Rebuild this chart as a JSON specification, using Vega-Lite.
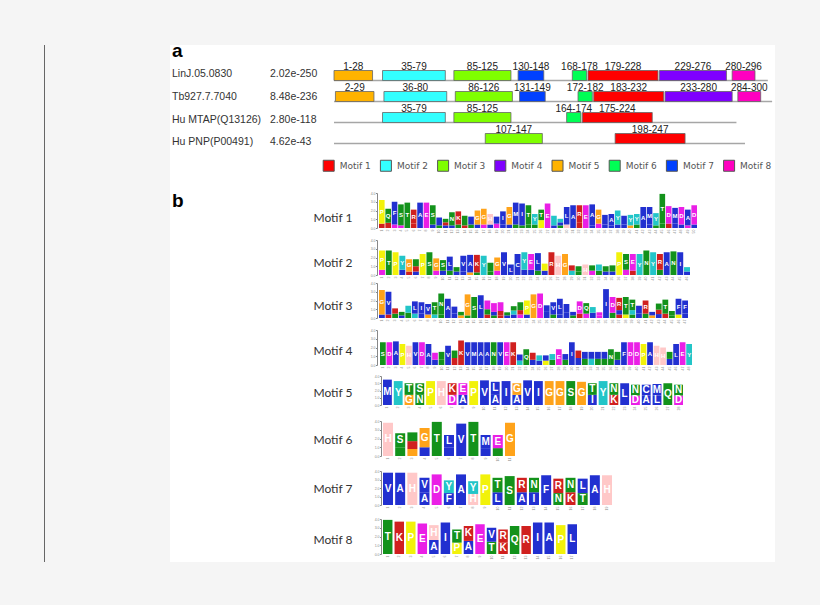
{
  "$schema": "https://vega.github.io/schema/vega-lite/v6.json",
  "width": 605,
  "height": 517,
  "autosize": {"type": "none"},
  "padding": {"left": 170, "top": 45, "right": 45, "bottom": 43},
  "background": "#f5f5f5",
  "config": {"view": {"fill": "white", "stroke": null}, "font": "Liberation Sans"},
  "datasets": {
    "proteins": [
      {"protein": "LinJ.05.0830", "evalue": "2.02e-250", "first": 1, "length": 305},
      {"protein": "Tb927.7.7040", "evalue": "8.48e-236", "first": 1, "length": 308},
      {"protein": "Hu MTAP(Q13126)", "evalue": "2.80e-118", "first": 1, "length": 283},
      {"protein": "Hu PNP(P00491)", "evalue": "4.62e-43", "first": 1, "length": 289}
    ],
    "sites": [
      {"protein": "LinJ.05.0830", "motif": "Motif 5", "start": 1, "end": 28, "label": "1-28"},
      {"protein": "LinJ.05.0830", "motif": "Motif 2", "start": 35, "end": 79, "label": "35-79"},
      {"protein": "LinJ.05.0830", "motif": "Motif 3", "start": 85, "end": 125, "label": "85-125"},
      {"protein": "LinJ.05.0830", "motif": "Motif 7", "start": 130, "end": 148, "label": "130-148"},
      {"protein": "LinJ.05.0830", "motif": "Motif 6", "start": 168, "end": 178, "label": "168-178"},
      {"protein": "LinJ.05.0830", "motif": "Motif 1", "start": 179, "end": 228, "label": "179-228"},
      {"protein": "LinJ.05.0830", "motif": "Motif 4", "start": 229, "end": 276, "label": "229-276"},
      {"protein": "LinJ.05.0830", "motif": "Motif 8", "start": 280, "end": 296, "label": "280-296"},
      {"protein": "Tb927.7.7040", "motif": "Motif 5", "start": 2, "end": 29, "label": "2-29"},
      {"protein": "Tb927.7.7040", "motif": "Motif 2", "start": 36, "end": 80, "label": "36-80"},
      {"protein": "Tb927.7.7040", "motif": "Motif 3", "start": 86, "end": 126, "label": "86-126"},
      {"protein": "Tb927.7.7040", "motif": "Motif 7", "start": 131, "end": 149, "label": "131-149"},
      {"protein": "Tb927.7.7040", "motif": "Motif 6", "start": 172, "end": 182, "label": "172-182"},
      {"protein": "Tb927.7.7040", "motif": "Motif 1", "start": 183, "end": 232, "label": "183-232"},
      {"protein": "Tb927.7.7040", "motif": "Motif 4", "start": 233, "end": 280, "label": "233-280"},
      {"protein": "Tb927.7.7040", "motif": "Motif 8", "start": 284, "end": 300, "label": "284-300"},
      {"protein": "Hu MTAP(Q13126)", "motif": "Motif 2", "start": 35, "end": 79, "label": "35-79"},
      {"protein": "Hu MTAP(Q13126)", "motif": "Motif 3", "start": 85, "end": 125, "label": "85-125"},
      {"protein": "Hu MTAP(Q13126)", "motif": "Motif 6", "start": 164, "end": 174, "label": "164-174"},
      {"protein": "Hu MTAP(Q13126)", "motif": "Motif 1", "start": 175, "end": 224, "label": "175-224"},
      {"protein": "Hu PNP(P00491)", "motif": "Motif 3", "start": 107, "end": 147, "label": "107-147"},
      {"protein": "Hu PNP(P00491)", "motif": "Motif 1", "start": 198, "end": 247, "label": "198-247"}
    ],
    "logo1": [
      {"pos": 1, "aa": "R", "bits": 0.5}, {"pos": 1, "aa": "P", "bits": 2.7},
      {"pos": 2, "aa": "R", "bits": 0.6}, {"pos": 2, "aa": "Q", "bits": 1.6},
      {"pos": 3, "aa": "E", "bits": 0.4}, {"pos": 3, "aa": "F", "bits": 2.6},
      {"pos": 4, "aa": "E", "bits": 0.3}, {"pos": 4, "aa": "S", "bits": 2.4},
      {"pos": 5, "aa": "T", "bits": 2.9},
      {"pos": 6, "aa": "K", "bits": 0.5}, {"pos": 6, "aa": "R", "bits": 1.6},
      {"pos": 7, "aa": "A", "bits": 2.9},
      {"pos": 8, "aa": "E", "bits": 2.9},
      {"pos": 9, "aa": "C", "bits": 0.4}, {"pos": 9, "aa": "S", "bits": 2.2},
      {"pos": 10, "aa": "T", "bits": 0.3}, {"pos": 10, "aa": "L", "bits": 0.9},
      {"pos": 11, "aa": "V", "bits": 0.3}, {"pos": 11, "aa": "K", "bits": 0.35}, {"pos": 11, "aa": "T", "bits": 0.4},
      {"pos": 12, "aa": "F", "bits": 0.3}, {"pos": 12, "aa": "N", "bits": 1.5},
      {"pos": 13, "aa": "Q", "bits": 0.4}, {"pos": 13, "aa": "K", "bits": 1.5},
      {"pos": 14, "aa": "R", "bits": 0.3}, {"pos": 14, "aa": "T", "bits": 1.1},
      {"pos": 15, "aa": "N", "bits": 0.4}, {"pos": 15, "aa": "L", "bits": 0.9},
      {"pos": 16, "aa": "A", "bits": 0.4}, {"pos": 16, "aa": "G", "bits": 1.6},
      {"pos": 17, "aa": "D", "bits": 0.4}, {"pos": 17, "aa": "G", "bits": 1.8},
      {"pos": 18, "aa": "A", "bits": 0.4}, {"pos": 18, "aa": "H", "bits": 1.2},
      {"pos": 19, "aa": "D", "bits": 0.5}, {"pos": 19, "aa": "L", "bits": 0.8},
      {"pos": 20, "aa": "A", "bits": 0.4}, {"pos": 20, "aa": "I", "bits": 1.5},
      {"pos": 21, "aa": "V", "bits": 0.4}, {"pos": 21, "aa": "G", "bits": 2.0},
      {"pos": 22, "aa": "N", "bits": 0.4}, {"pos": 22, "aa": "M", "bits": 2.5},
      {"pos": 23, "aa": "S", "bits": 0.3}, {"pos": 23, "aa": "I", "bits": 2.5},
      {"pos": 24, "aa": "S", "bits": 0.4}, {"pos": 24, "aa": "T", "bits": 2.2},
      {"pos": 25, "aa": "S", "bits": 0.4}, {"pos": 25, "aa": "Y", "bits": 1.2},
      {"pos": 26, "aa": "P", "bits": 0.9}, {"pos": 26, "aa": "T", "bits": 1.2},
      {"pos": 27, "aa": "E", "bits": 2.8},
      {"pos": 28, "aa": "A", "bits": 0.3}, {"pos": 28, "aa": "Y", "bits": 1.1},
      {"pos": 29, "aa": "T", "bits": 0.3}, {"pos": 29, "aa": "V", "bits": 0.35}, {"pos": 29, "aa": "Y", "bits": 0.4},
      {"pos": 30, "aa": "H", "bits": 0.4}, {"pos": 30, "aa": "L", "bits": 2.0},
      {"pos": 31, "aa": "A", "bits": 2.6},
      {"pos": 32, "aa": "K", "bits": 0.6}, {"pos": 32, "aa": "R", "bits": 2.0},
      {"pos": 33, "aa": "E", "bits": 2.6},
      {"pos": 34, "aa": "C", "bits": 0.3}, {"pos": 34, "aa": "A", "bits": 2.4},
      {"pos": 35, "aa": "E", "bits": 0.5}, {"pos": 35, "aa": "G", "bits": 1.6},
      {"pos": 36, "aa": "L", "bits": 0.4}, {"pos": 36, "aa": "I", "bits": 1.1},
      {"pos": 37, "aa": "C", "bits": 0.3}, {"pos": 37, "aa": "A", "bits": 1.3},
      {"pos": 38, "aa": "V", "bits": 0.4}, {"pos": 38, "aa": "Y", "bits": 1.6},
      {"pos": 39, "aa": "F", "bits": 0.4}, {"pos": 39, "aa": "A", "bits": 1.0},
      {"pos": 40, "aa": "G", "bits": 0.3}, {"pos": 40, "aa": "Y", "bits": 1.2},
      {"pos": 41, "aa": "S", "bits": 0.4}, {"pos": 41, "aa": "Y", "bits": 1.2},
      {"pos": 42, "aa": "A", "bits": 2.4},
      {"pos": 43, "aa": "A", "bits": 0.4}, {"pos": 43, "aa": "M", "bits": 2.0},
      {"pos": 44, "aa": "S", "bits": 0.3}, {"pos": 44, "aa": "Y", "bits": 1.4},
      {"pos": 45, "aa": "N", "bits": 0.5}, {"pos": 45, "aa": "T", "bits": 3.4},
      {"pos": 46, "aa": "K", "bits": 0.5}, {"pos": 46, "aa": "D", "bits": 2.0},
      {"pos": 47, "aa": "V", "bits": 0.5}, {"pos": 47, "aa": "M", "bits": 1.8},
      {"pos": 48, "aa": "C", "bits": 0.4}, {"pos": 48, "aa": "D", "bits": 2.0},
      {"pos": 49, "aa": "D", "bits": 0.3}, {"pos": 49, "aa": "A", "bits": 1.8},
      {"pos": 50, "aa": "C", "bits": 0.4}, {"pos": 50, "aa": "D", "bits": 2.2}
    ],
    "logo2": [
      {"pos": 1, "aa": "D", "bits": 0.6}, {"pos": 1, "aa": "P", "bits": 2.2},
      {"pos": 2, "aa": "T", "bits": 2.8},
      {"pos": 3, "aa": "P", "bits": 2.6},
      {"pos": 4, "aa": "F", "bits": 0.6}, {"pos": 4, "aa": "Y", "bits": 1.6},
      {"pos": 5, "aa": "K", "bits": 0.4}, {"pos": 5, "aa": "G", "bits": 1.4},
      {"pos": 6, "aa": "M", "bits": 0.4}, {"pos": 6, "aa": "K", "bits": 0.6}, {"pos": 6, "aa": "N", "bits": 0.8},
      {"pos": 7, "aa": "P", "bits": 2.4},
      {"pos": 8, "aa": "S", "bits": 2.6},
      {"pos": 9, "aa": "D", "bits": 0.5}, {"pos": 9, "aa": "G", "bits": 1.4},
      {"pos": 10, "aa": "A", "bits": 0.5}, {"pos": 10, "aa": "S", "bits": 1.2},
      {"pos": 11, "aa": "T", "bits": 0.5}, {"pos": 11, "aa": "L", "bits": 1.6},
      {"pos": 12, "aa": "C", "bits": 0.4}, {"pos": 12, "aa": "S", "bits": 0.5},
      {"pos": 13, "aa": "L", "bits": 0.4}, {"pos": 13, "aa": "V", "bits": 1.8},
      {"pos": 14, "aa": "G", "bits": 0.3}, {"pos": 14, "aa": "A", "bits": 2.0},
      {"pos": 15, "aa": "T", "bits": 0.3}, {"pos": 15, "aa": "K", "bits": 2.0},
      {"pos": 16, "aa": "Y", "bits": 2.2},
      {"pos": 17, "aa": "N", "bits": 0.4}, {"pos": 17, "aa": "S", "bits": 1.0},
      {"pos": 18, "aa": "D", "bits": 0.5}, {"pos": 18, "aa": "G", "bits": 1.5},
      {"pos": 19, "aa": "V", "bits": 2.6},
      {"pos": 20, "aa": "L", "bits": 1.2},
      {"pos": 21, "aa": "C", "bits": 2.4},
      {"pos": 22, "aa": "A", "bits": 0.6}, {"pos": 22, "aa": "Y", "bits": 2.0},
      {"pos": 23, "aa": "L", "bits": 0.6}, {"pos": 23, "aa": "E", "bits": 1.8},
      {"pos": 24, "aa": "T", "bits": 0.5}, {"pos": 24, "aa": "L", "bits": 2.0},
      {"pos": 25, "aa": "A", "bits": 0.5}, {"pos": 25, "aa": "P", "bits": 0.8},
      {"pos": 26, "aa": "R", "bits": 2.6},
      {"pos": 27, "aa": "H", "bits": 2.2},
      {"pos": 28, "aa": "G", "bits": 2.4},
      {"pos": 29, "aa": "Y", "bits": 0.5}, {"pos": 29, "aa": "R", "bits": 0.6},
      {"pos": 30, "aa": "Q", "bits": 0.4}, {"pos": 30, "aa": "S", "bits": 0.6},
      {"pos": 31, "aa": "H", "bits": 1.2},
      {"pos": 32, "aa": "E", "bits": 0.5}, {"pos": 32, "aa": "T", "bits": 0.6},
      {"pos": 33, "aa": "Q", "bits": 0.5}, {"pos": 33, "aa": "Y", "bits": 0.7},
      {"pos": 34, "aa": "F", "bits": 0.4}, {"pos": 34, "aa": "T", "bits": 0.6},
      {"pos": 35, "aa": "M", "bits": 0.4}, {"pos": 35, "aa": "T", "bits": 0.7},
      {"pos": 36, "aa": "P", "bits": 2.6},
      {"pos": 37, "aa": "D", "bits": 0.6}, {"pos": 37, "aa": "S", "bits": 1.8},
      {"pos": 38, "aa": "K", "bits": 0.5}, {"pos": 38, "aa": "E", "bits": 1.9},
      {"pos": 39, "aa": "Y", "bits": 2.4},
      {"pos": 40, "aa": "N", "bits": 2.8},
      {"pos": 41, "aa": "Y", "bits": 2.6},
      {"pos": 42, "aa": "Q", "bits": 0.6}, {"pos": 42, "aa": "R", "bits": 1.8},
      {"pos": 43, "aa": "A", "bits": 2.6},
      {"pos": 44, "aa": "N", "bits": 2.7},
      {"pos": 45, "aa": "I", "bits": 2.6},
      {"pos": 46, "aa": "C", "bits": 0.4}, {"pos": 46, "aa": "Y", "bits": 0.5}
    ],
    "logo3": [
      {"pos": 1, "aa": "C", "bits": 0.4}, {"pos": 1, "aa": "G", "bits": 2.8},
      {"pos": 2, "aa": "R", "bits": 0.4}, {"pos": 2, "aa": "V", "bits": 2.6},
      {"pos": 3, "aa": "T", "bits": 0.5}, {"pos": 3, "aa": "R", "bits": 0.6},
      {"pos": 4, "aa": "A", "bits": 0.3}, {"pos": 4, "aa": "T", "bits": 0.4},
      {"pos": 5, "aa": "T", "bits": 0.6}, {"pos": 5, "aa": "Y", "bits": 0.8},
      {"pos": 6, "aa": "Y", "bits": 0.5}, {"pos": 6, "aa": "L", "bits": 1.4},
      {"pos": 7, "aa": "A", "bits": 0.5}, {"pos": 7, "aa": "I", "bits": 1.3},
      {"pos": 8, "aa": "G", "bits": 0.4}, {"pos": 8, "aa": "V", "bits": 1.2},
      {"pos": 9, "aa": "Y", "bits": 0.4}, {"pos": 9, "aa": "T", "bits": 1.4},
      {"pos": 10, "aa": "T", "bits": 0.4}, {"pos": 10, "aa": "N", "bits": 2.4},
      {"pos": 11, "aa": "A", "bits": 2.2},
      {"pos": 12, "aa": "A", "bits": 0.5}, {"pos": 12, "aa": "V", "bits": 0.8},
      {"pos": 13, "aa": "G", "bits": 0.3}, {"pos": 13, "aa": "S", "bits": 0.4},
      {"pos": 14, "aa": "S", "bits": 0.3}, {"pos": 14, "aa": "G", "bits": 2.4},
      {"pos": 15, "aa": "S", "bits": 2.4},
      {"pos": 16, "aa": "L", "bits": 2.6},
      {"pos": 17, "aa": "R", "bits": 0.4}, {"pos": 17, "aa": "N", "bits": 0.6}, {"pos": 17, "aa": "D", "bits": 1.0},
      {"pos": 18, "aa": "S", "bits": 0.3}, {"pos": 18, "aa": "A", "bits": 0.4}, {"pos": 18, "aa": "E", "bits": 1.0},
      {"pos": 19, "aa": "K", "bits": 0.3}, {"pos": 19, "aa": "R", "bits": 0.5}, {"pos": 19, "aa": "E", "bits": 1.0},
      {"pos": 20, "aa": "C", "bits": 0.3}, {"pos": 20, "aa": "S", "bits": 0.35},
      {"pos": 21, "aa": "C", "bits": 0.4}, {"pos": 21, "aa": "Y", "bits": 0.45}, {"pos": 21, "aa": "T", "bits": 0.5},
      {"pos": 22, "aa": "E", "bits": 0.4}, {"pos": 22, "aa": "K", "bits": 0.5}, {"pos": 22, "aa": "Q", "bits": 0.9},
      {"pos": 23, "aa": "V", "bits": 0.4}, {"pos": 23, "aa": "P", "bits": 1.6},
      {"pos": 24, "aa": "G", "bits": 2.7},
      {"pos": 25, "aa": "D", "bits": 2.8},
      {"pos": 26, "aa": "M", "bits": 0.7}, {"pos": 26, "aa": "A", "bits": 0.75},
      {"pos": 27, "aa": "T", "bits": 0.4}, {"pos": 27, "aa": "V", "bits": 1.4},
      {"pos": 28, "aa": "C", "bits": 0.4}, {"pos": 28, "aa": "L", "bits": 1.8},
      {"pos": 29, "aa": "V", "bits": 0.6}, {"pos": 29, "aa": "I", "bits": 1.0},
      {"pos": 30, "aa": "T", "bits": 0.3}, {"pos": 30, "aa": "M", "bits": 0.4},
      {"pos": 31, "aa": "R", "bits": 0.5}, {"pos": 31, "aa": "D", "bits": 1.4},
      {"pos": 32, "aa": "D", "bits": 0.5}, {"pos": 32, "aa": "Q", "bits": 1.2},
      {"pos": 33, "aa": "F", "bits": 0.6}, {"pos": 33, "aa": "Y", "bits": 0.65},
      {"pos": 34, "aa": "D", "bits": 0.3}, {"pos": 34, "aa": "E", "bits": 0.35},
      {"pos": 35, "aa": "I", "bits": 3.3},
      {"pos": 36, "aa": "N", "bits": 0.6}, {"pos": 36, "aa": "D", "bits": 1.8},
      {"pos": 37, "aa": "K", "bits": 0.4}, {"pos": 37, "aa": "L", "bits": 0.5}, {"pos": 37, "aa": "R", "bits": 1.4},
      {"pos": 38, "aa": "P", "bits": 0.4}, {"pos": 38, "aa": "T", "bits": 2.0},
      {"pos": 39, "aa": "Q", "bits": 0.4}, {"pos": 39, "aa": "Y", "bits": 0.5}, {"pos": 39, "aa": "T", "bits": 1.2},
      {"pos": 40, "aa": "A", "bits": 0.5}, {"pos": 40, "aa": "M", "bits": 0.9},
      {"pos": 41, "aa": "S", "bits": 0.5}, {"pos": 41, "aa": "R", "bits": 1.5},
      {"pos": 42, "aa": "G", "bits": 0.3}, {"pos": 42, "aa": "A", "bits": 0.4},
      {"pos": 43, "aa": "A", "bits": 0.45}, {"pos": 43, "aa": "R", "bits": 0.5}, {"pos": 43, "aa": "Q", "bits": 0.7},
      {"pos": 44, "aa": "R", "bits": 0.5}, {"pos": 44, "aa": "T", "bits": 1.6},
      {"pos": 45, "aa": "S", "bits": 0.3}, {"pos": 45, "aa": "T", "bits": 0.5},
      {"pos": 46, "aa": "P", "bits": 0.4}, {"pos": 46, "aa": "F", "bits": 1.8},
      {"pos": 47, "aa": "L", "bits": 0.5}, {"pos": 47, "aa": "F", "bits": 1.5}
    ],
    "logo4": [
      {"pos": 1, "aa": "S", "bits": 2.6},
      {"pos": 2, "aa": "D", "bits": 2.6},
      {"pos": 3, "aa": "A", "bits": 2.7},
      {"pos": 4, "aa": "P", "bits": 2.4},
      {"pos": 5, "aa": "H", "bits": 2.2},
      {"pos": 6, "aa": "V", "bits": 2.6},
      {"pos": 7, "aa": "D", "bits": 2.6},
      {"pos": 8, "aa": "A", "bits": 2.4},
      {"pos": 9, "aa": "A", "bits": 0.6}, {"pos": 9, "aa": "E", "bits": 0.8},
      {"pos": 10, "aa": "Q", "bits": 0.6}, {"pos": 10, "aa": "S", "bits": 0.9},
      {"pos": 11, "aa": "V", "bits": 2.2},
      {"pos": 12, "aa": "R", "bits": 0.8}, {"pos": 12, "aa": "T", "bits": 0.85},
      {"pos": 13, "aa": "K", "bits": 2.8},
      {"pos": 14, "aa": "V", "bits": 2.6},
      {"pos": 15, "aa": "M", "bits": 2.6},
      {"pos": 16, "aa": "A", "bits": 2.6},
      {"pos": 17, "aa": "A", "bits": 2.6},
      {"pos": 18, "aa": "N", "bits": 2.6},
      {"pos": 19, "aa": "V", "bits": 2.6},
      {"pos": 20, "aa": "E", "bits": 2.6},
      {"pos": 21, "aa": "K", "bits": 2.6},
      {"pos": 22, "aa": "Y", "bits": 0.5}, {"pos": 22, "aa": "A", "bits": 0.7},
      {"pos": 23, "aa": "Q", "bits": 1.8},
      {"pos": 24, "aa": "L", "bits": 0.6}, {"pos": 24, "aa": "R", "bits": 0.8},
      {"pos": 25, "aa": "I", "bits": 0.5}, {"pos": 25, "aa": "Y", "bits": 0.6},
      {"pos": 26, "aa": "P", "bits": 0.5}, {"pos": 26, "aa": "V", "bits": 0.6},
      {"pos": 27, "aa": "S", "bits": 0.6}, {"pos": 27, "aa": "Y", "bits": 0.65},
      {"pos": 28, "aa": "E", "bits": 1.8},
      {"pos": 29, "aa": "T", "bits": 0.6}, {"pos": 29, "aa": "L", "bits": 0.65},
      {"pos": 30, "aa": "I", "bits": 2.6},
      {"pos": 31, "aa": "A", "bits": 0.8}, {"pos": 31, "aa": "K", "bits": 0.85},
      {"pos": 32, "aa": "A", "bits": 0.8}, {"pos": 32, "aa": "S", "bits": 0.7},
      {"pos": 33, "aa": "L", "bits": 0.8}, {"pos": 33, "aa": "Y", "bits": 0.7},
      {"pos": 34, "aa": "A", "bits": 0.8}, {"pos": 34, "aa": "S", "bits": 0.7},
      {"pos": 35, "aa": "A", "bits": 0.8}, {"pos": 35, "aa": "Q", "bits": 0.7},
      {"pos": 36, "aa": "N", "bits": 1.8},
      {"pos": 37, "aa": "L", "bits": 0.6}, {"pos": 37, "aa": "Q", "bits": 0.9},
      {"pos": 38, "aa": "F", "bits": 2.6},
      {"pos": 39, "aa": "D", "bits": 2.6},
      {"pos": 40, "aa": "D", "bits": 2.6},
      {"pos": 41, "aa": "P", "bits": 2.4},
      {"pos": 42, "aa": "A", "bits": 2.6},
      {"pos": 43, "aa": "H", "bits": 2.2},
      {"pos": 44, "aa": "H", "bits": 2.0},
      {"pos": 45, "aa": "C", "bits": 0.7}, {"pos": 45, "aa": "T", "bits": 0.8},
      {"pos": 46, "aa": "L", "bits": 2.4},
      {"pos": 47, "aa": "E", "bits": 2.6},
      {"pos": 48, "aa": "Y", "bits": 2.4}
    ],
    "logo5": [
      {"pos": 1, "aa": "M", "bits": 3.5},
      {"pos": 2, "aa": "Y", "bits": 3.3},
      {"pos": 3, "aa": "G", "bits": 1.4}, {"pos": 3, "aa": "T", "bits": 1.6},
      {"pos": 4, "aa": "N", "bits": 1.4}, {"pos": 4, "aa": "S", "bits": 1.6},
      {"pos": 5, "aa": "P", "bits": 3.3},
      {"pos": 6, "aa": "H", "bits": 3.3},
      {"pos": 7, "aa": "D", "bits": 1.4}, {"pos": 7, "aa": "K", "bits": 1.6},
      {"pos": 8, "aa": "A", "bits": 1.4}, {"pos": 8, "aa": "E", "bits": 1.6},
      {"pos": 9, "aa": "P", "bits": 3.3},
      {"pos": 10, "aa": "V", "bits": 3.4},
      {"pos": 11, "aa": "A", "bits": 1.5}, {"pos": 11, "aa": "L", "bits": 1.7},
      {"pos": 12, "aa": "I", "bits": 3.3},
      {"pos": 13, "aa": "A", "bits": 1.4}, {"pos": 13, "aa": "G", "bits": 1.6},
      {"pos": 14, "aa": "V", "bits": 3.4},
      {"pos": 15, "aa": "I", "bits": 3.3},
      {"pos": 16, "aa": "G", "bits": 3.3},
      {"pos": 17, "aa": "G", "bits": 3.3},
      {"pos": 18, "aa": "S", "bits": 3.3},
      {"pos": 19, "aa": "G", "bits": 3.2},
      {"pos": 20, "aa": "I", "bits": 1.4}, {"pos": 20, "aa": "T", "bits": 1.6},
      {"pos": 21, "aa": "Y", "bits": 3.3},
      {"pos": 22, "aa": "K", "bits": 1.4}, {"pos": 22, "aa": "N", "bits": 1.6},
      {"pos": 23, "aa": "L", "bits": 3.0},
      {"pos": 24, "aa": "D", "bits": 1.3}, {"pos": 24, "aa": "N", "bits": 1.5},
      {"pos": 25, "aa": "A", "bits": 1.3}, {"pos": 25, "aa": "C", "bits": 1.5},
      {"pos": 26, "aa": "L", "bits": 1.3}, {"pos": 26, "aa": "M", "bits": 1.6},
      {"pos": 27, "aa": "Q", "bits": 3.0},
      {"pos": 28, "aa": "D", "bits": 1.3}, {"pos": 28, "aa": "N", "bits": 1.5}
    ],
    "logo6": [
      {"pos": 1, "aa": "H", "bits": 3.8},
      {"pos": 2, "aa": "N", "bits": 1.0}, {"pos": 2, "aa": "S", "bits": 1.6},
      {"pos": 3, "aa": "G", "bits": 0.8}, {"pos": 3, "aa": "K", "bits": 0.9}, {"pos": 3, "aa": "S", "bits": 1.0},
      {"pos": 4, "aa": "A", "bits": 1.0}, {"pos": 4, "aa": "G", "bits": 2.2},
      {"pos": 5, "aa": "T", "bits": 3.9},
      {"pos": 6, "aa": "M", "bits": 1.0}, {"pos": 6, "aa": "L", "bits": 1.4},
      {"pos": 7, "aa": "V", "bits": 3.7},
      {"pos": 8, "aa": "T", "bits": 3.9},
      {"pos": 9, "aa": "I", "bits": 0.9}, {"pos": 9, "aa": "M", "bits": 1.5},
      {"pos": 10, "aa": "S", "bits": 0.9}, {"pos": 10, "aa": "E", "bits": 1.5},
      {"pos": 11, "aa": "G", "bits": 3.8}
    ],
    "logo7": [
      {"pos": 1, "aa": "V", "bits": 3.8},
      {"pos": 2, "aa": "A", "bits": 3.8},
      {"pos": 3, "aa": "H", "bits": 3.8},
      {"pos": 4, "aa": "A", "bits": 1.5}, {"pos": 4, "aa": "V", "bits": 1.7},
      {"pos": 5, "aa": "D", "bits": 3.6},
      {"pos": 6, "aa": "F", "bits": 1.4}, {"pos": 6, "aa": "Y", "bits": 1.5},
      {"pos": 7, "aa": "A", "bits": 3.6},
      {"pos": 8, "aa": "H", "bits": 1.3}, {"pos": 8, "aa": "Y", "bits": 1.5},
      {"pos": 9, "aa": "P", "bits": 3.6},
      {"pos": 10, "aa": "L", "bits": 1.5}, {"pos": 10, "aa": "T", "bits": 1.7},
      {"pos": 11, "aa": "S", "bits": 3.4},
      {"pos": 12, "aa": "A", "bits": 1.5}, {"pos": 12, "aa": "R", "bits": 1.7},
      {"pos": 13, "aa": "I", "bits": 1.5}, {"pos": 13, "aa": "N", "bits": 1.7},
      {"pos": 14, "aa": "F", "bits": 3.5},
      {"pos": 15, "aa": "N", "bits": 1.4}, {"pos": 15, "aa": "R", "bits": 1.7},
      {"pos": 16, "aa": "K", "bits": 1.5}, {"pos": 16, "aa": "N", "bits": 1.7},
      {"pos": 17, "aa": "T", "bits": 1.4}, {"pos": 17, "aa": "L", "bits": 1.7},
      {"pos": 18, "aa": "A", "bits": 3.5},
      {"pos": 19, "aa": "H", "bits": 3.5}
    ],
    "logo8": [
      {"pos": 1, "aa": "T", "bits": 3.9},
      {"pos": 2, "aa": "K", "bits": 3.7},
      {"pos": 3, "aa": "P", "bits": 3.7},
      {"pos": 4, "aa": "E", "bits": 3.5},
      {"pos": 5, "aa": "A", "bits": 1.6}, {"pos": 5, "aa": "H", "bits": 1.7},
      {"pos": 6, "aa": "I", "bits": 3.6},
      {"pos": 7, "aa": "P", "bits": 1.3}, {"pos": 7, "aa": "T", "bits": 1.5},
      {"pos": 8, "aa": "A", "bits": 1.5}, {"pos": 8, "aa": "K", "bits": 1.7},
      {"pos": 9, "aa": "E", "bits": 3.4},
      {"pos": 10, "aa": "T", "bits": 1.4}, {"pos": 10, "aa": "V", "bits": 1.6},
      {"pos": 11, "aa": "K", "bits": 1.3}, {"pos": 11, "aa": "R", "bits": 1.5},
      {"pos": 12, "aa": "Q", "bits": 3.2},
      {"pos": 13, "aa": "R", "bits": 3.2},
      {"pos": 14, "aa": "I", "bits": 3.6},
      {"pos": 15, "aa": "A", "bits": 3.6},
      {"pos": 16, "aa": "P", "bits": 3.3},
      {"pos": 17, "aa": "L", "bits": 3.4}
    ]
  },
  "resolve": {
    "scale": {"x": "independent", "y": "independent", "color": "independent"},
    "axis": {"x": "independent", "y": "independent"},
    "legend": {"color": "independent"}
  },
  "layer": [
    {
      "data": {"values": [{}]},
      "mark": {"type": "rule", "color": "#666666", "strokeWidth": 1},
      "encoding": {"x": {"value": -125.5}}
    },
    {
      "data": {"values": [{"panel": "a"}, {"panel": "b"}]},
      "mark": {"type": "text", "align": "left", "baseline": "alphabetic", "fontSize": 19, "fontWeight": "bold", "color": "black", "x": 2},
      "encoding": {
        "y": {"field": "panel", "type": "nominal", "scale": {"type": "point", "range": [12, 162], "padding": 0}, "axis": null},
        "text": {"field": "panel", "type": "nominal"}
      }
    },
    {
      "data": {"name": "proteins"},
      "transform": [{"fold": ["protein", "evalue"], "as": ["col", "label"]}],
      "mark": {"type": "text", "align": "left", "baseline": "middle", "fontSize": 10.5, "color": "#333333"},
      "encoding": {
        "x": {"field": "col", "type": "nominal", "scale": {"type": "point", "domain": ["protein", "evalue"], "range": [2, 100], "padding": 0}, "axis": null},
        "y": {"field": "protein", "type": "nominal", "sort": null, "scale": {"type": "point", "range": [29.3, 97.3], "padding": 0}, "axis": null},
        "text": {"field": "label", "type": "nominal"}
      }
    },
    {
      "layer": [
        {
          "data": {"name": "proteins"},
          "mark": {"type": "rule", "color": "#a6a6a6", "strokeWidth": 1.5},
          "encoding": {
            "x": {"field": "first", "type": "quantitative", "axis": null},
            "x2": {"field": "length"},
            "y": {"field": "protein", "type": "nominal", "bandPosition": 1, "axis": null}
          }
        },
        {
          "data": {"name": "sites"},
          "mark": {"type": "bar", "stroke": "#666666", "strokeWidth": 0.8},
          "encoding": {
            "x": {"field": "start", "type": "quantitative", "scale": {"domain": [1, 300], "range": [164, 590.7], "nice": false, "zero": false}, "axis": null},
            "x2": {"field": "end"},
            "y": {"field": "protein", "type": "nominal", "scale": {"type": "band", "domain": ["LinJ.05.0830", "Tb927.7.7040", "Hu MTAP(Q13126)", "Hu PNP(P00491)"], "range": [25.5, 98.5], "paddingInner": 0.524, "paddingOuter": 0}, "axis": null},
            "color": {
              "field": "motif", "type": "nominal",
              "scale": {"domain": ["Motif 1", "Motif 2", "Motif 3", "Motif 4", "Motif 5", "Motif 6", "Motif 7", "Motif 8"], "range": ["#ff0000", "#33ffff", "#7fff00", "#7f00ff", "#ffb300", "#00ff55", "#0040ff", "#ff00c0"]},
              "legend": {"title": null, "orient": "none", "legendX": 152.7, "legendY": 114.5, "direction": "horizontal", "columns": 8, "symbolType": "square", "symbolSize": 121, "symbolStrokeColor": "#555555", "symbolStrokeWidth": 1, "labelFont": "DejaVu Sans", "labelFontSize": 9, "labelColor": "#555555", "labelOffset": 5, "columnPadding": 6.2, "padding": 0}
            }
          }
        },
        {
          "data": {"name": "sites"},
          "transform": [
            {"fold": ["start", "end"], "as": ["side", "position"]},
            {"aggregate": [{"op": "mean", "field": "position", "as": "mid"}], "groupby": ["protein", "label"]}
          ],
          "mark": {"type": "text", "baseline": "alphabetic", "fontSize": 10, "color": "#222222", "dy": -1},
          "encoding": {
            "x": {"field": "mid", "type": "quantitative", "axis": null},
            "y": {"field": "protein", "type": "nominal", "bandPosition": 0, "axis": null},
            "text": {"field": "label", "type": "nominal"}
          }
        }
      ]
    },
    {
      "data": {"name": "logo1"},
      "layer": [
        {
          "mark": {"type": "bar"},
          "encoding": {
            "x": {"field": "pos", "type": "ordinal", "scale": {"range": [209, 527], "paddingInner": 0.12, "paddingOuter": 0}, "axis": {"orient": "bottom", "offset": -334, "title": null, "domain": false, "ticks": false, "labelFontSize": 3.5, "labelAngle": -90, "labelPadding": 1, "labelColor": "#888888", "labelOverlap": false}},
            "y": {"field": "bits", "type": "quantitative", "stack": "zero", "scale": {"domain": [0, 4], "range": [183, 148], "nice": false}, "axis": {"orient": "left", "offset": -207, "values": [0, 1, 2, 3, 4], "grid": false, "tickSize": 1.5, "domainColor": "#888888", "tickColor": "#888888", "labelFontSize": 3.5, "labelPadding": 0.5, "labelColor": "#888888", "title": "Motif 1", "titleAngle": 0, "titleAlign": "right", "titleBaseline": "middle", "titleX": -25, "titleY": 172, "titleFont": "Lato", "titleFontSize": 12, "titleFontWeight": "normal", "titleColor": "#333333"}},
            "color": {"field": "aa", "type": "nominal", "scale": {"domain": ["A", "C", "F", "I", "L", "V", "W", "M", "N", "Q", "S", "T", "D", "E", "K", "R", "H", "G", "P", "Y"], "range": ["#2230d0", "#2230d0", "#2230d0", "#2230d0", "#2230d0", "#2230d0", "#2230d0", "#2230d0", "#13921b", "#13921b", "#13921b", "#13921b", "#ea1fe6", "#ea1fe6", "#d0201f", "#d0201f", "#ffc8c8", "#ffa31a", "#f2f20a", "#23c5c8"]}, "legend": null},
            "order": {"field": "bits", "type": "quantitative", "sort": "ascending"}
          }
        },
        {
          "mark": {"type": "text", "color": "white", "fontSize": 6, "fontWeight": "bold", "baseline": "middle"},
          "encoding": {
            "x": {"field": "pos", "type": "ordinal"},
            "y": {"field": "bits", "type": "quantitative", "stack": "zero", "bandPosition": 0.5},
            "detail": {"field": "aa", "type": "nominal"},
            "order": {"field": "bits", "type": "quantitative", "sort": "ascending"},
            "text": {"condition": {"test": "datum.bits >= 1.2", "field": "aa", "type": "nominal"}, "value": ""}
          }
        }
      ]
    },
    {
      "data": {"name": "logo2"},
      "layer": [
        {
          "mark": {"type": "bar"},
          "encoding": {
            "x": {"field": "pos", "type": "ordinal", "scale": {"range": [209, 520], "paddingInner": 0.12, "paddingOuter": 0}, "axis": {"orient": "bottom", "offset": -287, "title": null, "domain": false, "ticks": false, "labelFontSize": 3.5, "labelAngle": -90, "labelPadding": 1, "labelColor": "#888888", "labelOverlap": false}},
            "y": {"field": "bits", "type": "quantitative", "stack": "zero", "scale": {"domain": [0, 4], "range": [230, 195], "nice": false}, "axis": {"orient": "left", "offset": -207, "values": [0, 1, 2, 3, 4], "grid": false, "tickSize": 1.5, "domainColor": "#888888", "tickColor": "#888888", "labelFontSize": 3.5, "labelPadding": 0.5, "labelColor": "#888888", "title": "Motif 2", "titleAngle": 0, "titleAlign": "right", "titleBaseline": "middle", "titleX": -25, "titleY": 217, "titleFont": "Lato", "titleFontSize": 12, "titleFontWeight": "normal", "titleColor": "#333333"}},
            "color": {"field": "aa", "type": "nominal", "scale": {"domain": ["A", "C", "F", "I", "L", "V", "W", "M", "N", "Q", "S", "T", "D", "E", "K", "R", "H", "G", "P", "Y"], "range": ["#2230d0", "#2230d0", "#2230d0", "#2230d0", "#2230d0", "#2230d0", "#2230d0", "#2230d0", "#13921b", "#13921b", "#13921b", "#13921b", "#ea1fe6", "#ea1fe6", "#d0201f", "#d0201f", "#ffc8c8", "#ffa31a", "#f2f20a", "#23c5c8"]}, "legend": null},
            "order": {"field": "bits", "type": "quantitative", "sort": "ascending"}
          }
        },
        {
          "mark": {"type": "text", "color": "white", "fontSize": 6, "fontWeight": "bold", "baseline": "middle"},
          "encoding": {
            "x": {"field": "pos", "type": "ordinal"},
            "y": {"field": "bits", "type": "quantitative", "stack": "zero", "bandPosition": 0.5},
            "detail": {"field": "aa", "type": "nominal"},
            "order": {"field": "bits", "type": "quantitative", "sort": "ascending"},
            "text": {"condition": {"test": "datum.bits >= 1.2", "field": "aa", "type": "nominal"}, "value": ""}
          }
        }
      ]
    },
    {
      "data": {"name": "logo3"},
      "layer": [
        {
          "mark": {"type": "bar"},
          "encoding": {
            "x": {"field": "pos", "type": "ordinal", "scale": {"range": [209, 518], "paddingInner": 0.12, "paddingOuter": 0}, "axis": {"orient": "bottom", "offset": -244, "title": null, "domain": false, "ticks": false, "labelFontSize": 3.5, "labelAngle": -90, "labelPadding": 1, "labelColor": "#888888", "labelOverlap": false}},
            "y": {"field": "bits", "type": "quantitative", "stack": "zero", "scale": {"domain": [0, 4], "range": [273, 238], "nice": false}, "axis": {"orient": "left", "offset": -207, "values": [0, 1, 2, 3, 4], "grid": false, "tickSize": 1.5, "domainColor": "#888888", "tickColor": "#888888", "labelFontSize": 3.5, "labelPadding": 0.5, "labelColor": "#888888", "title": "Motif 3", "titleAngle": 0, "titleAlign": "right", "titleBaseline": "middle", "titleX": -25, "titleY": 260, "titleFont": "Lato", "titleFontSize": 12, "titleFontWeight": "normal", "titleColor": "#333333"}},
            "color": {"field": "aa", "type": "nominal", "scale": {"domain": ["A", "C", "F", "I", "L", "V", "W", "M", "N", "Q", "S", "T", "D", "E", "K", "R", "H", "G", "P", "Y"], "range": ["#2230d0", "#2230d0", "#2230d0", "#2230d0", "#2230d0", "#2230d0", "#2230d0", "#2230d0", "#13921b", "#13921b", "#13921b", "#13921b", "#ea1fe6", "#ea1fe6", "#d0201f", "#d0201f", "#ffc8c8", "#ffa31a", "#f2f20a", "#23c5c8"]}, "legend": null},
            "order": {"field": "bits", "type": "quantitative", "sort": "ascending"}
          }
        },
        {
          "mark": {"type": "text", "color": "white", "fontSize": 6, "fontWeight": "bold", "baseline": "middle"},
          "encoding": {
            "x": {"field": "pos", "type": "ordinal"},
            "y": {"field": "bits", "type": "quantitative", "stack": "zero", "bandPosition": 0.5},
            "detail": {"field": "aa", "type": "nominal"},
            "order": {"field": "bits", "type": "quantitative", "sort": "ascending"},
            "text": {"condition": {"test": "datum.bits >= 1.2", "field": "aa", "type": "nominal"}, "value": ""}
          }
        }
      ]
    },
    {
      "data": {"name": "logo4"},
      "layer": [
        {
          "mark": {"type": "bar"},
          "encoding": {
            "x": {"field": "pos", "type": "ordinal", "scale": {"range": [210, 522], "paddingInner": 0.12, "paddingOuter": 0}, "axis": {"orient": "bottom", "offset": -197, "title": null, "domain": false, "ticks": false, "labelFontSize": 3.5, "labelAngle": -90, "labelPadding": 1, "labelColor": "#888888", "labelOverlap": false}},
            "y": {"field": "bits", "type": "quantitative", "stack": "zero", "scale": {"domain": [0, 4], "range": [320, 285], "nice": false}, "axis": {"orient": "left", "offset": -207, "values": [0, 1, 2, 3, 4], "grid": false, "tickSize": 1.5, "domainColor": "#888888", "tickColor": "#888888", "labelFontSize": 3.5, "labelPadding": 0.5, "labelColor": "#888888", "title": "Motif 4", "titleAngle": 0, "titleAlign": "right", "titleBaseline": "middle", "titleX": -25, "titleY": 305, "titleFont": "Lato", "titleFontSize": 12, "titleFontWeight": "normal", "titleColor": "#333333"}},
            "color": {"field": "aa", "type": "nominal", "scale": {"domain": ["A", "C", "F", "I", "L", "V", "W", "M", "N", "Q", "S", "T", "D", "E", "K", "R", "H", "G", "P", "Y"], "range": ["#2230d0", "#2230d0", "#2230d0", "#2230d0", "#2230d0", "#2230d0", "#2230d0", "#2230d0", "#13921b", "#13921b", "#13921b", "#13921b", "#ea1fe6", "#ea1fe6", "#d0201f", "#d0201f", "#ffc8c8", "#ffa31a", "#f2f20a", "#23c5c8"]}, "legend": null},
            "order": {"field": "bits", "type": "quantitative", "sort": "ascending"}
          }
        },
        {
          "mark": {"type": "text", "color": "white", "fontSize": 6, "fontWeight": "bold", "baseline": "middle"},
          "encoding": {
            "x": {"field": "pos", "type": "ordinal"},
            "y": {"field": "bits", "type": "quantitative", "stack": "zero", "bandPosition": 0.5},
            "detail": {"field": "aa", "type": "nominal"},
            "order": {"field": "bits", "type": "quantitative", "sort": "ascending"},
            "text": {"condition": {"test": "datum.bits >= 1.2", "field": "aa", "type": "nominal"}, "value": ""}
          }
        }
      ]
    },
    {
      "data": {"name": "logo5"},
      "layer": [
        {
          "mark": {"type": "bar"},
          "encoding": {
            "x": {"field": "pos", "type": "ordinal", "scale": {"range": [213, 513], "paddingInner": 0.18, "paddingOuter": 0}, "axis": {"orient": "bottom", "offset": -157, "title": null, "domain": false, "ticks": false, "labelFontSize": 3.5, "labelAngle": -90, "labelPadding": 1, "labelColor": "#888888", "labelOverlap": false}},
            "y": {"field": "bits", "type": "quantitative", "stack": "zero", "scale": {"domain": [0, 4], "range": [360, 331], "nice": false}, "axis": {"orient": "left", "offset": -211, "values": [0, 1, 2, 3, 4], "grid": false, "tickSize": 1.5, "domainColor": "#888888", "tickColor": "#888888", "labelFontSize": 3.5, "labelPadding": 0.5, "labelColor": "#888888", "title": "Motif 5", "titleAngle": 0, "titleAlign": "right", "titleBaseline": "middle", "titleX": -29, "titleY": 347, "titleFont": "Lato", "titleFontSize": 12, "titleFontWeight": "normal", "titleColor": "#333333"}},
            "color": {"field": "aa", "type": "nominal", "scale": {"domain": ["A", "C", "F", "I", "L", "V", "W", "M", "N", "Q", "S", "T", "D", "E", "K", "R", "H", "G", "P", "Y"], "range": ["#2230d0", "#2230d0", "#2230d0", "#2230d0", "#2230d0", "#2230d0", "#2230d0", "#2230d0", "#13921b", "#13921b", "#13921b", "#13921b", "#ea1fe6", "#ea1fe6", "#d0201f", "#d0201f", "#ffc8c8", "#ffa31a", "#f2f20a", "#23c5c8"]}, "legend": null},
            "order": {"field": "bits", "type": "quantitative", "sort": "ascending"}
          }
        },
        {
          "mark": {"type": "text", "color": "white", "fontSize": 10, "fontWeight": "bold", "baseline": "middle"},
          "encoding": {
            "x": {"field": "pos", "type": "ordinal"},
            "y": {"field": "bits", "type": "quantitative", "stack": "zero", "bandPosition": 0.5},
            "detail": {"field": "aa", "type": "nominal"},
            "order": {"field": "bits", "type": "quantitative", "sort": "ascending"},
            "text": {"condition": {"test": "datum.bits >= 1.2", "field": "aa", "type": "nominal"}, "value": ""}
          }
        }
      ]
    },
    {
      "data": {"name": "logo6"},
      "layer": [
        {
          "mark": {"type": "bar"},
          "encoding": {
            "x": {"field": "pos", "type": "ordinal", "scale": {"range": [213, 345], "paddingInner": 0.18, "paddingOuter": 0}, "axis": {"orient": "bottom", "offset": -106, "title": null, "domain": false, "ticks": false, "labelFontSize": 3.5, "labelAngle": -90, "labelPadding": 1, "labelColor": "#888888", "labelOverlap": false}},
            "y": {"field": "bits", "type": "quantitative", "stack": "zero", "scale": {"domain": [0, 4], "range": [411, 376], "nice": false}, "axis": {"orient": "left", "offset": -211, "values": [0, 1, 2, 3, 4], "grid": false, "tickSize": 1.5, "domainColor": "#888888", "tickColor": "#888888", "labelFontSize": 3.5, "labelPadding": 0.5, "labelColor": "#888888", "title": "Motif 6", "titleAngle": 0, "titleAlign": "right", "titleBaseline": "middle", "titleX": -29, "titleY": 394, "titleFont": "Lato", "titleFontSize": 12, "titleFontWeight": "normal", "titleColor": "#333333"}},
            "color": {"field": "aa", "type": "nominal", "scale": {"domain": ["A", "C", "F", "I", "L", "V", "W", "M", "N", "Q", "S", "T", "D", "E", "K", "R", "H", "G", "P", "Y"], "range": ["#2230d0", "#2230d0", "#2230d0", "#2230d0", "#2230d0", "#2230d0", "#2230d0", "#2230d0", "#13921b", "#13921b", "#13921b", "#13921b", "#ea1fe6", "#ea1fe6", "#d0201f", "#d0201f", "#ffc8c8", "#ffa31a", "#f2f20a", "#23c5c8"]}, "legend": null},
            "order": {"field": "bits", "type": "quantitative", "sort": "ascending"}
          }
        },
        {
          "mark": {"type": "text", "color": "white", "fontSize": 10, "fontWeight": "bold", "baseline": "middle"},
          "encoding": {
            "x": {"field": "pos", "type": "ordinal"},
            "y": {"field": "bits", "type": "quantitative", "stack": "zero", "bandPosition": 0.5},
            "detail": {"field": "aa", "type": "nominal"},
            "order": {"field": "bits", "type": "quantitative", "sort": "ascending"},
            "text": {"condition": {"test": "datum.bits >= 1.2", "field": "aa", "type": "nominal"}, "value": ""}
          }
        }
      ]
    },
    {
      "data": {"name": "logo7"},
      "layer": [
        {
          "mark": {"type": "bar"},
          "encoding": {
            "x": {"field": "pos", "type": "ordinal", "scale": {"range": [213, 442], "paddingInner": 0.18, "paddingOuter": 0}, "axis": {"orient": "bottom", "offset": -57, "title": null, "domain": false, "ticks": false, "labelFontSize": 3.5, "labelAngle": -90, "labelPadding": 1, "labelColor": "#888888", "labelOverlap": false}},
            "y": {"field": "bits", "type": "quantitative", "stack": "zero", "scale": {"domain": [0, 4], "range": [460, 426], "nice": false}, "axis": {"orient": "left", "offset": -211, "values": [0, 1, 2, 3, 4], "grid": false, "tickSize": 1.5, "domainColor": "#888888", "tickColor": "#888888", "labelFontSize": 3.5, "labelPadding": 0.5, "labelColor": "#888888", "title": "Motif 7", "titleAngle": 0, "titleAlign": "right", "titleBaseline": "middle", "titleX": -29, "titleY": 443, "titleFont": "Lato", "titleFontSize": 12, "titleFontWeight": "normal", "titleColor": "#333333"}},
            "color": {"field": "aa", "type": "nominal", "scale": {"domain": ["A", "C", "F", "I", "L", "V", "W", "M", "N", "Q", "S", "T", "D", "E", "K", "R", "H", "G", "P", "Y"], "range": ["#2230d0", "#2230d0", "#2230d0", "#2230d0", "#2230d0", "#2230d0", "#2230d0", "#2230d0", "#13921b", "#13921b", "#13921b", "#13921b", "#ea1fe6", "#ea1fe6", "#d0201f", "#d0201f", "#ffc8c8", "#ffa31a", "#f2f20a", "#23c5c8"]}, "legend": null},
            "order": {"field": "bits", "type": "quantitative", "sort": "ascending"}
          }
        },
        {
          "mark": {"type": "text", "color": "white", "fontSize": 10, "fontWeight": "bold", "baseline": "middle"},
          "encoding": {
            "x": {"field": "pos", "type": "ordinal"},
            "y": {"field": "bits", "type": "quantitative", "stack": "zero", "bandPosition": 0.5},
            "detail": {"field": "aa", "type": "nominal"},
            "order": {"field": "bits", "type": "quantitative", "sort": "ascending"},
            "text": {"condition": {"test": "datum.bits >= 1.2", "field": "aa", "type": "nominal"}, "value": ""}
          }
        }
      ]
    },
    {
      "data": {"name": "logo8"},
      "layer": [
        {
          "mark": {"type": "bar"},
          "encoding": {
            "x": {"field": "pos", "type": "ordinal", "scale": {"range": [213, 407], "paddingInner": 0.18, "paddingOuter": 0}, "axis": {"orient": "bottom", "offset": -8, "title": null, "domain": false, "ticks": false, "labelFontSize": 3.5, "labelAngle": -90, "labelPadding": 1, "labelColor": "#888888", "labelOverlap": false}},
            "y": {"field": "bits", "type": "quantitative", "stack": "zero", "scale": {"domain": [0, 4], "range": [509, 474], "nice": false}, "axis": {"orient": "left", "offset": -211, "values": [0, 1, 2, 3, 4], "grid": false, "tickSize": 1.5, "domainColor": "#888888", "tickColor": "#888888", "labelFontSize": 3.5, "labelPadding": 0.5, "labelColor": "#888888", "title": "Motif 8", "titleAngle": 0, "titleAlign": "right", "titleBaseline": "middle", "titleX": -29, "titleY": 494, "titleFont": "Lato", "titleFontSize": 12, "titleFontWeight": "normal", "titleColor": "#333333"}},
            "color": {"field": "aa", "type": "nominal", "scale": {"domain": ["A", "C", "F", "I", "L", "V", "W", "M", "N", "Q", "S", "T", "D", "E", "K", "R", "H", "G", "P", "Y"], "range": ["#2230d0", "#2230d0", "#2230d0", "#2230d0", "#2230d0", "#2230d0", "#2230d0", "#2230d0", "#13921b", "#13921b", "#13921b", "#13921b", "#ea1fe6", "#ea1fe6", "#d0201f", "#d0201f", "#ffc8c8", "#ffa31a", "#f2f20a", "#23c5c8"]}, "legend": null},
            "order": {"field": "bits", "type": "quantitative", "sort": "ascending"}
          }
        },
        {
          "mark": {"type": "text", "color": "white", "fontSize": 10, "fontWeight": "bold", "baseline": "middle"},
          "encoding": {
            "x": {"field": "pos", "type": "ordinal"},
            "y": {"field": "bits", "type": "quantitative", "stack": "zero", "bandPosition": 0.5},
            "detail": {"field": "aa", "type": "nominal"},
            "order": {"field": "bits", "type": "quantitative", "sort": "ascending"},
            "text": {"condition": {"test": "datum.bits >= 1.2", "field": "aa", "type": "nominal"}, "value": ""}
          }
        }
      ]
    }
  ]
}
